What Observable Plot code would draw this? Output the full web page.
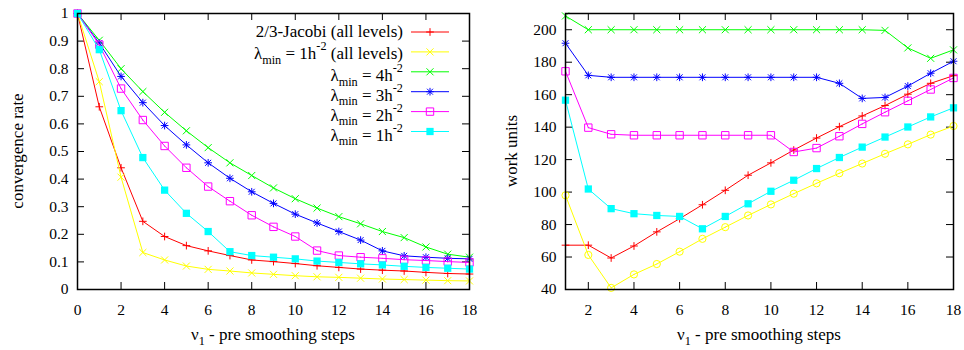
<!DOCTYPE html>
<html><head><meta charset="utf-8">
<script src="https://cdn.jsdelivr.net/npm/d3@7"></script>
<script src="https://cdn.jsdelivr.net/npm/@observablehq/plot@0.6"></script>
<style>
body{margin:0;background:#fff}
#chart{display:flex;width:964px;height:350px}
</style>
</head><body><div id="chart"></div>
<script>
// ---------- data ----------
const stepsRate = [0,1,2,3,4,5,6,7,8,9,10,11,12,13,14,15,16,17,18];
const stepsWork = [1,2,3,4,5,6,7,8,9,10,11,12,13,14,15,16,17,18];

const rateJacobi = [1,0.662,0.441,0.247,0.192,0.159,0.140,0.123,0.107,0.101,0.094,0.086,0.080,0.074,0.070,0.067,0.062,0.058,0.056];
const rateL1All  = [1,0.753,0.407,0.134,0.107,0.085,0.073,0.067,0.060,0.055,0.050,0.046,0.044,0.041,0.038,0.036,0.034,0.032,0.031];
const rateL4     = [1,0.903,0.800,0.717,0.642,0.575,0.514,0.459,0.413,0.368,0.329,0.295,0.264,0.238,0.210,0.188,0.154,0.128,0.117];
const rateL3     = [1,0.893,0.772,0.677,0.594,0.524,0.459,0.403,0.354,0.312,0.273,0.241,0.210,0.179,0.140,0.122,0.117,0.113,0.111];
const rateL2     = [1,0.887,0.728,0.614,0.520,0.441,0.373,0.320,0.269,0.227,0.192,0.141,0.123,0.117,0.113,0.108,0.105,0.101,0.098];
const rateL1     = [1,0.869,0.648,0.478,0.360,0.276,0.210,0.137,0.123,0.117,0.111,0.103,0.098,0.093,0.089,0.084,0.080,0.077,0.074];

const workJacobi = [67.3,67.3,59.4,66.8,75.5,83.6,92.2,101.1,110.4,118.0,125.9,133.3,140.3,146.9,153.3,160.3,167.0,171.7];
const workL1All  = [98.0,61.3,41.0,49.3,55.7,63.3,71.2,78.4,85.6,92.4,99.0,105.4,111.6,117.6,123.6,129.4,135.4,140.7];
const workL4     = [208.5,200,200,200,200,200,200,200,200,200,200,200,200,200,199.6,188.8,182.4,187.6];
const workL3     = [191.7,171.9,170.7,170.7,170.7,170.7,170.7,170.7,170.7,170.7,170.7,170.7,167.0,157.7,158.3,165.3,173.2,180.6];
const workL2     = [174.4,139.7,135.6,135,135,135,135,135,135,135,124.7,127.1,134.4,142.0,149.2,156.2,163.2,170.3];
const workL1     = [156.6,101.9,89.8,86.7,85.6,85.0,77.4,85.0,92.8,100.5,107.3,114.5,121.3,127.7,133.9,140.1,146.3,151.9];

const xTicksRate = [0,2,4,6,8,10,12,14,16,18];
const xTicksWork = [2,4,6,8,10,12,14,16,18];
const yTicksRate = [0,0.1,0.2,0.3,0.4,0.5,0.6,0.7,0.8,0.9,1];
const yTicksWork = [40,60,80,100,120,140,160,180,200];

// legend labels: [text, shift] with shift -1 = subscript, 1 = superscript
const legendLabels = [
  [["2/3-Jacobi (all levels)",0]],
  [["λ",0],["min",-1],[" = 1h",0],["-2",1],[" (all levels)",0]],
  [["λ",0],["min",-1],[" = 4h",0],["-2",1]],
  [["λ",0],["min",-1],[" = 3h",0],["-2",1]],
  [["λ",0],["min",-1],[" = 2h",0],["-2",1]],
  [["λ",0],["min",-1],[" = 1h",0],["-2",1]]
];

// ---------- styles ----------
const colors = ["#ff0000","#ffff00","#00ff00","#0000ff","#ff00ff","#00ffff"];
const PLUS = {symbol:"plus", r:2.6, fill:false};
const TIMES = {symbol:"times", r:3.3, fill:false};
const TIMES_S = {symbol:"times", r:2.8, fill:false};
const SQ_OPEN = {symbol:"square2", r:4.7, fill:false};
const CENTER = {symbol:"circle", r:0.6, fill:true};
const SQ_FILL = {symbol:"square", r:4.1, fill:true};
const CIRC = {symbol:"circle", r:3.6, fill:false};
const symbolsRate = [[PLUS],[TIMES],[TIMES],[PLUS,TIMES_S],[SQ_OPEN,CENTER],[SQ_FILL]];
const symbolsWork = [[PLUS],[CIRC,CENTER],[TIMES],[PLUS,TIMES_S],[SQ_OPEN,CENTER],[SQ_FILL]];
const d3Sym = {plus:d3.symbolPlus, times:d3.symbolTimes, square2:d3.symbolSquare2, square:d3.symbolSquare, circle:d3.symbolCircle};

const W = 482, H = 350;
const FONT = "'Liberation Serif', 'Times New Roman', serif";
const LEGEND_SIZE = 17, TITLE_SIZE = 17;

function panel({steps, values, symbols, xDomain, yDomain, xTicks, yTicks, margin, yTitle, yTitleX, legend}) {
  const innerW = W - margin.left - margin.right;
  const innerH = H - margin.top - margin.bottom;
  const TL = 7;
  const marks = [
    Plot.axisX({ticks: xTicks, tickSize: 0, tickPadding: 14, label: null, tickFormat: d => String(d), fontSize: 15.5}),
    Plot.axisY({ticks: yTicks, tickSize: 0, tickPadding: 9, label: null, tickFormat: d => String(d), fontSize: 15.5}),
    Plot.ruleX(xTicks, {x: d => d, insetTop: innerH - TL, stroke: "black", strokeWidth: 1}),
    Plot.ruleX(xTicks, {x: d => d, insetBottom: innerH - TL, stroke: "black", strokeWidth: 1}),
    Plot.ruleY(yTicks, {y: d => d, insetRight: innerW - TL, stroke: "black", strokeWidth: 1}),
    Plot.ruleY(yTicks, {y: d => d, insetLeft: innerW - TL, stroke: "black", strokeWidth: 1})
  ];
  values.forEach((vals, s) => {
    const rows = steps.map((x, i) => ({x, y: vals[i]}));
    marks.push(Plot.line(rows, {x: "x", y: "y", stroke: colors[s], strokeWidth: 1}));
    symbols[s].forEach(sp => {
      marks.push(Plot.dot(rows, {x: "x", y: "y", symbol: sp.symbol, r: sp.r,
        fill: sp.fill ? colors[s] : "none", stroke: sp.fill ? "none" : colors[s], strokeWidth: 1}));
    });
  });
  marks.push(Plot.frame({stroke: "black", strokeWidth: 1.5}));

  const svg = Plot.plot({
    width: W, height: H,
    marginLeft: margin.left, marginRight: margin.right, marginTop: margin.top, marginBottom: margin.bottom,
    x: {domain: xDomain}, y: {domain: yDomain},
    style: {fontFamily: FONT, fontSize: "15px", background: "white", color: "black", overflow: "visible"},
    marks
  });

  const sel = d3.select(svg);
  sel.append("text")
    .attr("transform", `translate(${yTitleX},${margin.top + innerH / 2}) rotate(-90)`)
    .attr("text-anchor", "middle").attr("font-size", TITLE_SIZE).attr("fill", "black")
    .attr("font-family", FONT).text(yTitle);
  const xt = sel.append("text")
    .attr("x", margin.left + innerW / 2).attr("y", 340)
    .attr("text-anchor", "middle").attr("font-size", TITLE_SIZE).attr("fill", "black").attr("font-family", FONT);
  rich(xt, [["ν",0],["1",-1],[" - pre smoothing steps",0]], TITLE_SIZE);

  if (legend) {
    const right = W - margin.right;
    const g = sel.append("g").attr("font-family", FONT).attr("font-size", LEGEND_SIZE);
    const baseOff = [5, 7, 9, 9, 9, 9];
    legendLabels.forEach((parts, i) => {
      const y = 32 + 19.9 * i;
      g.append("line").attr("x1", right - 58).attr("x2", right - 20).attr("y1", y).attr("y2", y)
        .attr("stroke", colors[i]).attr("stroke-width", 1);
      symbols[i].forEach(sp => {
        g.append("path").attr("transform", `translate(${right - 39},${y})`)
          .attr("d", d3.symbol(d3Sym[sp.symbol], Math.PI * sp.r * sp.r)())
          .attr("fill", sp.fill ? colors[i] : "none").attr("stroke", sp.fill ? "none" : colors[i]).attr("stroke-width", 1);
      });
      const t = g.append("text").attr("x", right - 66).attr("y", y + baseOff[i])
        .attr("text-anchor", "end").attr("fill", "black");
      rich(t, parts, LEGEND_SIZE);
    });
  }
  return svg;
}

function rich(textSel, parts, size) {
  let shift = 0;
  parts.forEach(([t, k]) => {
    const target = k < 0 ? size * 0.28 : k > 0 ? -size * 0.5 : 0;
    textSel.append("tspan").attr("dy", target - shift)
      .attr("font-size", k === 0 ? size : size * 0.72).text(t);
    shift = target;
  });
}

const chart = document.getElementById("chart");
chart.append(panel({
  steps: stepsRate,
  values: [rateJacobi, rateL1All, rateL4, rateL3, rateL2, rateL1],
  symbols: symbolsRate,
  xDomain: [0, 18], yDomain: [0, 1],
  xTicks: xTicksRate, yTicks: yTicksRate,
  margin: {left: 77, right: 13, top: 13, bottom: 61},
  yTitle: "convergence rate", yTitleX: 23, legend: true
}));
chart.append(panel({
  steps: stepsWork,
  values: [workJacobi, workL1All, workL4, workL3, workL2, workL1],
  symbols: symbolsWork,
  xDomain: [1, 18], yDomain: [40, 210],
  xTicks: xTicksWork, yTicks: yTicksWork,
  margin: {left: 83, right: 11, top: 13, bottom: 61},
  yTitle: "work units", yTitleX: 34.5, legend: false
}));
</script>
</body></html>
